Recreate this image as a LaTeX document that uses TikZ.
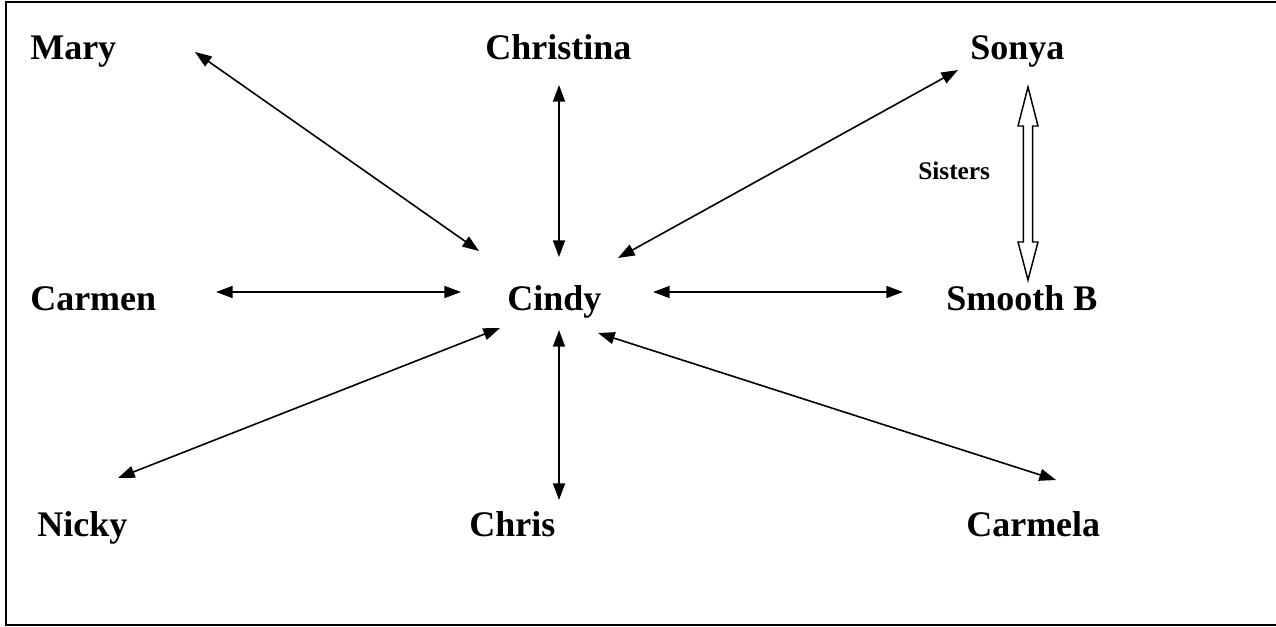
\documentclass[tikz,border=0pt]{standalone}
\usepackage{fontspec}
\setmainfont{Liberation Serif}
\usetikzlibrary{arrows.meta}
\begin{document}
\begin{tikzpicture}[x=0.75pt,y=-0.75pt,
  person/.style={anchor=base west,inner sep=0pt,font=\fontsize{27}{32}\selectfont\bfseries},
  smalllabel/.style={anchor=base west,inner sep=0pt,font=\fontsize{19}{23}\selectfont\bfseries},
  link/.style={line width=1.2pt,{Triangle[length=12.5pt,width=9pt]}-{Triangle[length=12.5pt,width=9pt]}}]
\useasboundingbox (0,0) rectangle (1276,627);
\draw[line width=1.6pt] (6,2) rectangle (1290,625);
% names
\node[person] (mary) at (30,60) {Mary};
\node[person] (christina) at (485,60) {Christina};
\node[person] (sonya) at (970,60) {Sonya};
\node[person] (carmen) at (30,310) {Carmen};
\node[person] (cindy) at (507,310) {Cindy};
\node[person] (smooth) at (946,310) {Smooth B};
\node[person] (nicky) at (37,536) {Nicky};
\node[person] (chris) at (469,536) {Chris};
\node[person] (carmela) at (966,536) {Carmela};
\node[smalllabel] (sisters) at (918,180) {Sisters};
% connector end points
\coordinate (m1) at (195,52);   \coordinate (m2) at (479,251);
\coordinate (ct1) at (559,85);  \coordinate (ct2) at (559,257);
\coordinate (s1) at (958,70);   \coordinate (s2) at (618,258);
\coordinate (cm1) at (216,292); \coordinate (cm2) at (461,292);
\coordinate (sb1) at (903,292); \coordinate (sb2) at (653,292);
\coordinate (n1) at (118,478);  \coordinate (n2) at (500,328);
\coordinate (ch1) at (559,500); \coordinate (ch2) at (559,330);
\coordinate (ca1) at (1056,480);\coordinate (ca2) at (598,333);
\draw[link] (m1) -- (m2);
\draw[link] (ct1) -- (ct2);
\draw[link] (s1) -- (s2);
\draw[link] (cm1) -- (cm2);
\draw[link] (sb1) -- (sb2);
\draw[link] (n1) -- (n2);
\draw[link] (ch1) -- (ch2);
\draw[link] (ca1) -- (ca2);
% sisters hollow double arrow
\draw[line width=1.1pt,fill=white,line join=miter]
  (1028,87) -- (1038,126) -- (1032.7,126) -- (1032.7,242) -- (1038,242)
  -- (1028,280) -- (1018,242) -- (1023.3,242) -- (1023.3,126) -- (1018,126) -- cycle;
\end{tikzpicture}
\end{document}
